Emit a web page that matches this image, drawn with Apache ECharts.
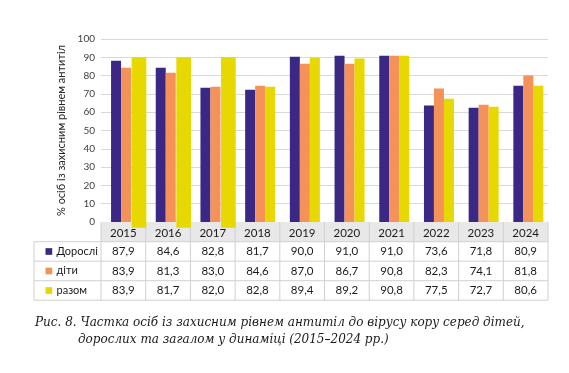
<!DOCTYPE html>
<html><head><meta charset="utf-8">
<script src="https://cdn.jsdelivr.net/npm/echarts@6/dist/echarts.min.js"></script>
<style>html,body{margin:0;padding:0;background:#fff}#c{width:569px;height:373px}</style>
</head><body><div id="c"></div>
<script>
const years = ['2015','2016','2017','2018','2019','2020','2021','2022','2023','2024'];
const seriesNames = ['Дорослі','діти','разом'];
// bar heights as drawn
const adultsBar = [88.1, 84.3, 73.4, 72.3, 90.3, 90.9, 90.9, 63.6, 62.5, 74.5];
const kidsBar   = [84.3, 81.6, 73.9, 74.5, 86.5, 86.5, 90.9, 72.9, 64.1, 80.0];
const totalBar  = [90.0, 90.0, 90.0, 73.9, 89.8, 89.3, 90.9, 67.4, 63.0, 74.5];
// data table values
const adultsTable = [87.9, 84.6, 82.8, 81.7, 90.0, 91.0, 91.0, 73.6, 71.8, 80.9];
const kidsTable   = [83.9, 81.3, 83.0, 84.6, 87.0, 86.7, 90.8, 82.3, 74.1, 81.8];
const totalTable  = [83.9, 81.7, 82.0, 82.8, 89.4, 89.2, 90.8, 77.5, 72.7, 80.6];
const yAxisName = '% осіб із захисним рівнем антитіл';
const caption1 = 'Рис. 8. Частка осіб із захисним рівнем антитіл до вірусу кору серед дітей,';
const caption2 = 'дорослих та загалом у динаміці (2015–2024 рр.)';

const colors = ['#3b2884', '#f4925a', '#e6d800'];
const fmt = v => v.toFixed(1).replace('.', ',');

function makeRender(offset, wideFirst) {
  return function (params, api) {
    const i = api.value(0), v = api.value(1);
    const top = api.coord([i, v]);
    const base = api.coord([i, 0]);
    let x = top[0] + offset, w = 10, bottom = base[1];
    if (wideFirst && i < 3) { x = top[0] + 8.3; w = 14.7; bottom = base[1] + 5.7; }
    return { type: 'rect', shape: { x: x, y: top[1], width: w, height: bottom - top[1] },
             style: { fill: api.visual('color') } };
  };
}
const toPairs = arr => arr.map((v, i) => [i, v]);

const chart = echarts.init(document.getElementById('c'), null, { renderer: 'canvas' });
const font = 'Lato, "Noto Sans", sans-serif';
chart.setOption({
  animation: false,
  grid: { left: 101, right: 21, top: 39, bottom: 151 },
  xAxis: { type: 'category', data: years, boundaryGap: true,
    axisLine: { show: false }, axisTick: { show: false }, axisLabel: { show: false }, splitLine: { show: false } },
  yAxis: { type: 'value', min: 0, max: 100, interval: 10,
    name: yAxisName, nameLocation: 'middle', nameGap: 31, nameRotate: 90,
    nameTextStyle: { fontFamily: font, fontSize: 11, color: '#262626' },
    axisLine: { show: false }, axisTick: { show: false },
    axisLabel: { fontFamily: font, fontSize: 10, color: '#404040', margin: 6 },
    splitLine: { lineStyle: { color: '#d9d9d9', width: 1 } } },
  series: [
    { type: 'custom', name: seriesNames[0], data: toPairs(adultsBar), renderItem: makeRender(-12.3, false), itemStyle: { color: colors[0] }, clip: false, z: 3 },
    { type: 'custom', name: seriesNames[1], data: toPairs(kidsBar), renderItem: makeRender(-2.3, false), itemStyle: { color: colors[1] }, clip: false, z: 3 },
    { type: 'custom', name: seriesNames[2], data: toPairs(totalBar), renderItem: makeRender(7.7, true), itemStyle: { color: colors[2] }, clip: false, z: 3 }
  ]
});

// data table under the plot
const c0 = chart.convertToPixel({ xAxisIndex: 0 }, 0);
const c1 = chart.convertToPixel({ xAxisIndex: 0 }, 1);
const bw = c1 - c0;
const leftX = c0 - bw / 2;
const rightX = leftX + bw * years.length;
const headTop = chart.convertToPixel({ yAxisIndex: 0 }, 0);
const rowY = [headTop, headTop + 19.7, headTop + 39.2, headTop + 58.7, headTop + 78.2];
const tableLeft = 34;
const lineCol = '#d0d0d0';
const g = [];
g.push({ type: 'rect', z: 0, shape: { x: leftX, y: rowY[0], width: rightX - leftX, height: rowY[1] - rowY[0] }, style: { fill: '#e8e8e8' } });
for (let k = 1; k < rowY.length; k++) {
  g.push({ type: 'line', z: 1, shape: { x1: tableLeft, y1: rowY[k], x2: rightX, y2: rowY[k] }, style: { stroke: lineCol, lineWidth: 1 } });
}
g.push({ type: 'line', z: 1, shape: { x1: tableLeft, y1: rowY[1], x2: tableLeft, y2: rowY[4] }, style: { stroke: lineCol, lineWidth: 1 } });
for (let k = 0; k <= years.length; k++) {
  const x = leftX + bw * k;
  g.push({ type: 'line', z: 1, shape: { x1: x, y1: rowY[0], x2: x, y2: rowY[4] }, style: { stroke: lineCol, lineWidth: 1 } });
}
const tStyle = { fontFamily: font, fontSize: 11.5, fill: '#1a1a1a', align: 'center', verticalAlign: 'middle' };
years.forEach((y, i) => {
  const cx = leftX + bw * (i + 0.5);
  g.push({ type: 'text', z: 5, x: cx, y: (rowY[0] + rowY[1]) / 2 + 1, style: Object.assign({ text: y }, tStyle) });
  [adultsTable, kidsTable, totalTable].forEach((arr, r) => {
    g.push({ type: 'text', z: 5, x: cx, y: (rowY[r + 1] + rowY[r + 2]) / 2, style: Object.assign({ text: fmt(arr[i]) }, tStyle) });
  });
});
seriesNames.forEach((n, r) => {
  const cy = (rowY[r + 1] + rowY[r + 2]) / 2;
  g.push({ type: 'rect', z: 5, shape: { x: 45.5, y: cy - 3.3, width: 6.7, height: 6.7 }, style: { fill: colors[r] } });
  g.push({ type: 'text', z: 5, x: 56.5, y: cy, style: { text: n, fontFamily: font, fontSize: 11, fill: '#1a1a1a', align: 'left', verticalAlign: 'middle' } });
});
const capStyle = { fontFamily: '"DejaVu Serif", "Liberation Serif", serif', fontStyle: 'italic', fontSize: 12, fill: '#1a1a1a', align: 'left', verticalAlign: 'middle' };
g.push({ type: 'text', z: 5, x: 35, y: 323, style: Object.assign({ text: caption1 }, capStyle) });
g.push({ type: 'text', z: 5, x: 78, y: 339.5, style: Object.assign({ text: caption2 }, capStyle) });
chart.setOption({ graphic: g });
</script>
</body></html>
